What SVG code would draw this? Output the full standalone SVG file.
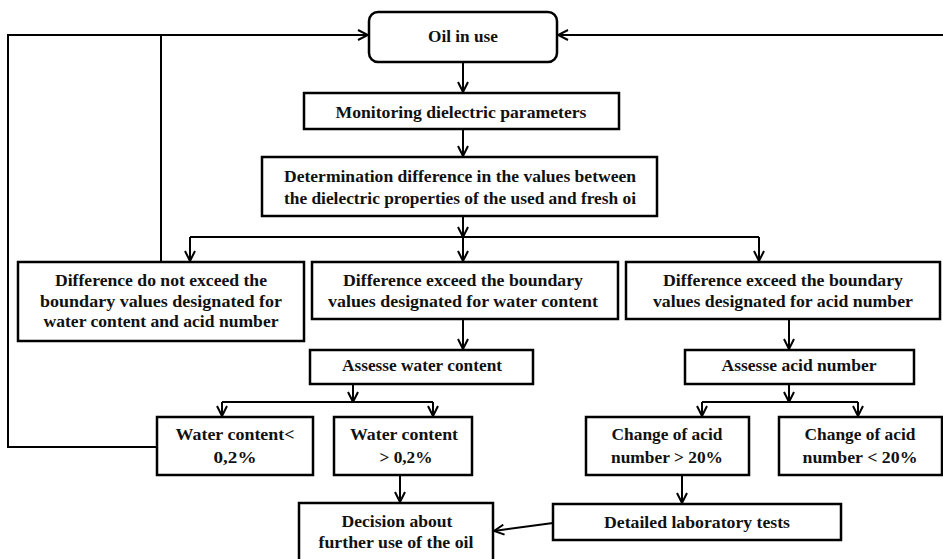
<svg xmlns="http://www.w3.org/2000/svg" width="943" height="559" viewBox="0 0 943 559">
<style>
.box{fill:#fff;stroke:#000;stroke-width:2.5}
.ln{fill:none;stroke:#000;stroke-width:2}
.ar{fill:none;stroke:#000;stroke-width:2;marker-end:url(#ah)}
text{font-family:"Liberation Serif","Times New Roman",serif;font-weight:bold;font-size:17px;text-anchor:middle;fill:#111}
</style>
<defs>
<marker id="ah" markerUnits="userSpaceOnUse" viewBox="0 0 12 12" markerWidth="12" markerHeight="12" refX="11" refY="6" orient="auto">
<path d="M1,1 L11,6 L1,11" fill="none" stroke="#000" stroke-width="2"/>
</marker>
</defs>
<rect width="943" height="559" fill="#fff"/>
<g id="connectors">
<path class="ln" d="M161,262 V35"/>
<path class="ar" d="M157,447 H8 V35 H368"/>
<path class="ar" d="M943,35 H558"/>
<path class="ar" d="M463,62 V92"/>
<path class="ar" d="M463,129 V156"/>
<path class="ar" d="M463,216 V237"/>
<path class="ln" d="M190,237 H759"/>
<path class="ar" d="M190,237 V261"/>
<path class="ar" d="M463,237 V261"/>
<path class="ar" d="M759,237 V261"/>
<path class="ar" d="M463,319 V349"/>
<path class="ar" d="M789,319 V349"/>
<path class="ar" d="M353,384 V402"/>
<path class="ln" d="M222,402 H433"/>
<path class="ar" d="M222,402 V416"/>
<path class="ar" d="M433,402 V416"/>
<path class="ar" d="M789,384 V402"/>
<path class="ln" d="M702,402 H858"/>
<path class="ar" d="M702,402 V416"/>
<path class="ar" d="M858,402 V416"/>
<path class="ar" d="M400,475 V502"/>
<path class="ar" d="M682,475 V503"/>
<path class="ar" d="M553,523 L494,531"/>
</g>
<g id="oil-in-use">
<rect class="box" x="369" y="12" width="188" height="50" rx="9"/>
<text x="463" y="42" textLength="70" lengthAdjust="spacingAndGlyphs">Oil in use</text>
</g>
<g id="monitoring">
<rect class="box" x="304" y="93" width="315" height="36"/>
<text x="461" y="118" textLength="251" lengthAdjust="spacingAndGlyphs">Monitoring dielectric parameters</text>
</g>
<g id="determination">
<rect class="box" x="262" y="157" width="395" height="59"/>
<text x="460" y="182" textLength="352" lengthAdjust="spacingAndGlyphs">Determination difference in the values between</text>
<text x="460" y="204" textLength="352" lengthAdjust="spacingAndGlyphs">the dielectric properties of the used  and fresh oi</text>
</g>
<g id="not-exceed">
<rect class="box" x="18" y="262" width="286" height="79"/>
<text x="161" y="286" textLength="212" lengthAdjust="spacingAndGlyphs">Difference do not exceed the</text>
<text x="161" y="307" textLength="242" lengthAdjust="spacingAndGlyphs">boundary values designated for</text>
<text x="161" y="327" textLength="235" lengthAdjust="spacingAndGlyphs">water content and acid number</text>
</g>
<g id="exceed-water">
<rect class="box" x="312" y="262" width="306" height="57"/>
<text x="463" y="286" textLength="240" lengthAdjust="spacingAndGlyphs">Difference exceed the boundary</text>
<text x="463" y="307" textLength="270" lengthAdjust="spacingAndGlyphs">values designated for water content</text>
</g>
<g id="exceed-acid">
<rect class="box" x="626" y="262" width="314" height="57"/>
<text x="783" y="286" textLength="240" lengthAdjust="spacingAndGlyphs">Difference exceed the boundary</text>
<text x="783" y="307" textLength="260" lengthAdjust="spacingAndGlyphs">values designated for acid number</text>
</g>
<g id="assess-water">
<rect class="box" x="310" y="350" width="223" height="34"/>
<text x="422" y="371" textLength="160" lengthAdjust="spacingAndGlyphs">Assesse water content</text>
</g>
<g id="assess-acid">
<rect class="box" x="685" y="350" width="229" height="34"/>
<text x="799" y="371" textLength="155" lengthAdjust="spacingAndGlyphs">Assesse acid number</text>
</g>
<g id="water-low">
<rect class="box" x="157" y="417" width="156" height="58"/>
<text x="235" y="440" textLength="119" lengthAdjust="spacingAndGlyphs">Water content&lt;</text>
<text x="235" y="463" textLength="43" lengthAdjust="spacingAndGlyphs">0,2%</text>
</g>
<g id="water-high">
<rect class="box" x="334" y="417" width="138" height="58"/>
<text x="404" y="440" textLength="108" lengthAdjust="spacingAndGlyphs">Water content</text>
<text x="406" y="463" textLength="53" lengthAdjust="spacingAndGlyphs">&gt; 0,2%</text>
</g>
<g id="acid-high">
<rect class="box" x="586" y="417" width="163" height="58"/>
<text x="667" y="440" textLength="111" lengthAdjust="spacingAndGlyphs">Change of acid</text>
<text x="667" y="463" textLength="112" lengthAdjust="spacingAndGlyphs">number &gt; 20%</text>
</g>
<g id="acid-low">
<rect class="box" x="779" y="417" width="163" height="58"/>
<text x="860" y="440" textLength="111" lengthAdjust="spacingAndGlyphs">Change of acid</text>
<text x="860" y="463" textLength="115" lengthAdjust="spacingAndGlyphs">number &lt; 20%</text>
</g>
<g id="lab-tests">
<rect class="box" x="553" y="504" width="288" height="36"/>
<text x="697" y="528" textLength="186" lengthAdjust="spacingAndGlyphs">Detailed laboratory tests</text>
</g>
<g id="decision">
<rect class="box" x="299" y="503" width="194" height="62"/>
<text x="397" y="527" textLength="111" lengthAdjust="spacingAndGlyphs">Decision about</text>
<text x="396" y="548" textLength="155" lengthAdjust="spacingAndGlyphs">further use of the oil</text>
</g>
</svg>
